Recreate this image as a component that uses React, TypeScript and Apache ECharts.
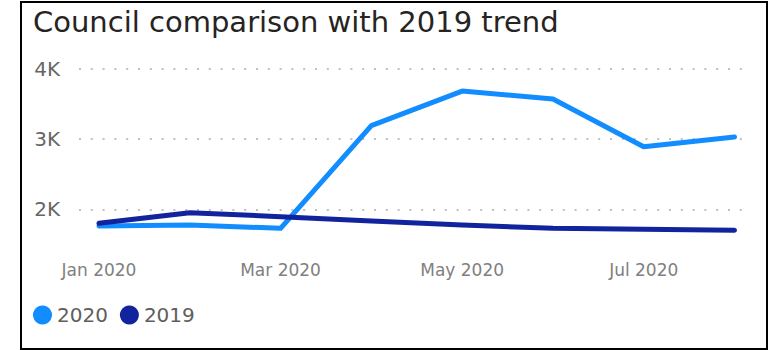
import React, { useEffect, useRef } from "react";
import * as echarts from "echarts";

const months = ["Jan 2020", "Feb 2020", "Mar 2020", "Apr 2020", "May 2020", "Jun 2020", "Jul 2020", "Aug 2020"];
const values2020 = [1762, 1776, 1729, 3192, 3686, 3572, 2892, 3031];
const values2019 = [1800, 1952, 1895, 1833, 1776, 1729, 1715, 1701];
const yTicks = [2000, 3000, 4000];
const xLabelIdx = [0, 2, 4, 6];
const seriesNames = ["2020", "2019"];

export default function App() {
  const ref = useRef<HTMLDivElement>(null);
  useEffect(() => {
    if (!ref.current) return;
    const chart = echarts.init(ref.current, undefined, { renderer: "svg" });
    const font = "DejaVu Sans";
    chart.setOption({
      animation: false,
      backgroundColor: "#ffffff",
      title: {
        text: "Council comparison with 2019 trend",
        left: 33,
        top: 7,
        padding: 0,
        textStyle: { fontFamily: font, fontSize: 29, fontWeight: "normal", color: "#252423" },
      },
      legend: {
        left: 33,
        top: 305,
        padding: 0,
        icon: "circle",
        itemWidth: 19,
        itemHeight: 19,
        itemGap: 12,
        data: seriesNames,
        textStyle: { fontFamily: font, fontSize: 20, color: "#605E5C" },
      },
      grid: { left: 79, right: 23.5, top: 62, bottom: 98.6, containLabel: false },
      xAxis: {
        type: "value",
        min: -0.22,
        max: 7.11,
        axisLine: { show: false },
        axisTick: { show: false, customValues: xLabelIdx },
        splitLine: { show: false },
        axisLabel: {
          customValues: xLabelIdx,
          formatter: (v: number) => months[Math.round(v)] ?? "",
          margin: 10,
          fontFamily: font,
          fontSize: 17,
          color: "#808080",
        },
      },
      yAxis: {
        type: "value",
        min: 1400,
        max: 4100,
        axisLine: { show: false },
        axisTick: { show: false, customValues: yTicks },
        axisLabel: {
          customValues: yTicks,
          formatter: (v: number) => v / 1000 + "K",
          margin: 19,
          fontFamily: font,
          fontSize: 20,
          color: "#666666",
        },
        splitLine: {
          show: true,
          lineStyle: { color: "#c0c0c0", width: 2, type: [2, 9.8] },
        },
      },
      series: [
        {
          name: seriesNames[0],
          type: "line",
          symbol: "none",
          color: "#118DFF",
          lineStyle: { width: 5, cap: "round", join: "round", color: "#118DFF" },
          data: values2020.map((v, i) => [i, v]),
        },
        {
          name: seriesNames[1],
          type: "line",
          symbol: "none",
          color: "#12239E",
          lineStyle: { width: 5, cap: "round", join: "round", color: "#12239E" },
          data: values2019.map((v, i) => [i, v]),
        },
      ],
    });
    return () => chart.dispose();
  }, []);
  return (
    <div style={{ position: "absolute", left: 0, top: 0, width: 768, height: 350, background: "#fff" }}>
      <div ref={ref} style={{ position: "absolute", left: 0, top: 0, width: 768, height: 350 }} />
      <div
        style={{
          position: "absolute",
          left: 20,
          top: 1,
          width: 748,
          height: 349,
          boxSizing: "border-box",
          border: "2px solid #000",
          pointerEvents: "none",
        }}
      />
    </div>
  );
}
